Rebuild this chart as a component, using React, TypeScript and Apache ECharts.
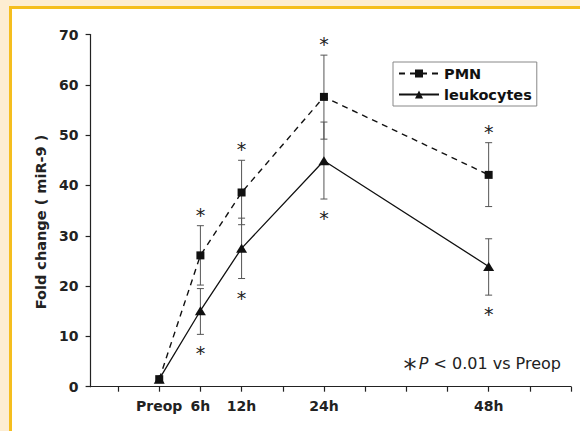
import React, { useEffect, useRef } from 'react';
import * as echarts from 'echarts';

const categories = ['Preop', '6h', '12h', '24h', '48h'];
const hours = [0, 6, 12, 24, 48];
const xTickValues = [-6, 0, 6, 12, 18, 24, 30, 36, 42, 48, 54, 60];

const pmnMean = [1.5, 26.1, 38.6, 57.6, 42.1];
const pmnLow = [1.5, 20.2, 32.2, 49.2, 35.8];
const pmnHigh = [1.5, 32.0, 45.0, 65.9, 48.5];
const pmnSig = [false, true, true, true, true];

const leukMean = [1.5, 15.1, 27.5, 44.9, 23.9];
const leukLow = [1.5, 10.4, 21.5, 37.3, 18.2];
const leukHigh = [1.5, 19.5, 33.5, 52.6, 29.4];
const leukSig = [false, true, true, true, true];

const FONT = 'DejaVu Sans';

export default function App() {
  const ref = useRef<HTMLDivElement>(null);
  useEffect(() => {
    const chart = echarts.init(ref.current!, null, { renderer: 'svg' });

    const errData = (low: number[], high: number[], sigTop: boolean[], sigBottom: boolean[]) =>
      hours.map((h, i) => [h, low[i], high[i], sigTop[i] ? 1 : 0, sigBottom[i] ? 1 : 0]);

    const renderErr = (_params: any, api: any) => {
      const x = api.value(0);
      const lo = api.value(1);
      const hi = api.value(2);
      const top = api.coord([x, hi]);
      const bot = api.coord([x, lo]);
      const children: any[] = [];
      const stroke = { stroke: '#555', lineWidth: 1 };
      if (hi - lo > 0.01) {
        children.push({ type: 'line', shape: { x1: top[0], y1: top[1], x2: bot[0], y2: bot[1] }, style: stroke });
        children.push({ type: 'line', shape: { x1: top[0] - 3.5, y1: top[1], x2: top[0] + 3.5, y2: top[1] }, style: stroke });
        children.push({ type: 'line', shape: { x1: bot[0] - 3.5, y1: bot[1], x2: bot[0] + 3.5, y2: bot[1] }, style: stroke });
      }
      const starStyle = { text: '*', align: 'center', verticalAlign: 'middle', fontFamily: FONT, fontSize: 19, fill: '#222' };
      if (api.value(3)) {
        children.push({ type: 'text', style: { ...starStyle, x: top[0], y: top[1] - 11 } });
      }
      if (api.value(4)) {
        children.push({ type: 'text', style: { ...starStyle, x: bot[0], y: bot[1] + 19 } });
      }
      return { type: 'group', children };
    };

    chart.setOption({
      animation: false,
      grid: { left: 90.6, right: 9, top: 34.5, bottom: 44.3, containLabel: false },
      legend: {
        orient: 'vertical',
        left: 393,
        top: 62,
        data: ['PMN', 'leukocytes'],
        itemWidth: 40,
        itemHeight: 10,
        itemGap: 6,
        padding: [4, 5, 4, 5],
        borderColor: '#888',
        borderWidth: 1,
        textStyle: { fontFamily: FONT, fontWeight: 'bold', fontSize: 14.5, color: '#111' },
      },
      xAxis: {
        type: 'value',
        min: -10,
        max: 60,
        splitLine: { show: false },
        axisLine: { onZero: false, lineStyle: { color: '#222', width: 1.2 } },
        axisTick: { show: true, inside: false, length: 5, customValues: xTickValues, lineStyle: { color: '#222', width: 1.2 } },
        axisLabel: {
          customValues: hours,
          margin: 12,
          fontFamily: FONT,
          fontWeight: 'bold',
          fontSize: 14,
          color: '#222',
          formatter: (v: number) => {
            const i = hours.indexOf(v);
            return i >= 0 ? categories[i] : '';
          },
        },
      },
      yAxis: {
        type: 'value',
        min: 0,
        max: 70,
        interval: 10,
        splitLine: { show: false },
        axisLine: { show: true, onZero: false, lineStyle: { color: '#222', width: 1.2 } },
        axisTick: { show: true, inside: false, length: 5, lineStyle: { color: '#222', width: 1.2 } },
        axisLabel: { margin: 12, fontFamily: FONT, fontWeight: 'bold', fontSize: 14, color: '#222' },
      },
      graphic: [
        {
          type: 'text',
          x: 41,
          y: 222,
          rotation: Math.PI / 2,
          style: {
            text: 'Fold change ( miR-9 )',
            align: 'center',
            verticalAlign: 'middle',
            fontFamily: FONT,
            fontWeight: 'bold',
            fontSize: 14.5,
            fill: '#222',
          },
        },
        {
          type: 'text',
          x: 410,
          y: 369,
          style: { text: '*', align: 'center', verticalAlign: 'middle', fontFamily: FONT, fontSize: 26, fill: '#222' },
        },
        {
          type: 'text',
          x: 561,
          y: 363,
          style: {
            text: '{a|P}{b| < 0.01 vs Preop}',
            align: 'right',
            verticalAlign: 'middle',
            fill: '#222',
            rich: {
              a: { fontFamily: FONT, fontSize: 16, fontStyle: 'italic', fill: '#222' },
              b: { fontFamily: FONT, fontSize: 16, fill: '#222' },
            },
          },
        },
      ],
      series: [
        {
          name: 'PMN err',
          type: 'custom',
          renderItem: renderErr,
          data: errData(pmnLow, pmnHigh, pmnSig, hours.map(() => false)),
          z: 1,
          silent: true,
        },
        {
          name: 'leuk err',
          type: 'custom',
          renderItem: renderErr,
          data: errData(leukLow, leukHigh, hours.map(() => false), leukSig),
          z: 1,
          silent: true,
        },
        {
          name: 'PMN',
          type: 'line',
          data: hours.map((h, i) => [h, pmnMean[i]]),
          symbol: 'rect',
          symbolSize: 8,
          showAllSymbol: true,
          lineStyle: { type: [6, 5], width: 1.4, color: '#111' },
          itemStyle: { color: '#111' },
          z: 3,
        },
        {
          name: 'leukocytes',
          type: 'line',
          data: hours.map((h, i) => [h, leukMean[i]]),
          symbol: 'triangle',
          symbolSize: [11, 9],
          showAllSymbol: true,
          lineStyle: { type: 'solid', width: 1.3, color: '#111' },
          itemStyle: { color: '#111' },
          z: 3,
        },
      ],
    });
    return () => chart.dispose();
  }, []);

  return (
    <div style={{ position: 'fixed', left: 0, top: 0, width: 580, height: 431, background: '#FDEDD2', overflow: 'hidden' }}>
      <div
        style={{
          position: 'absolute',
          left: 9,
          top: 6,
          width: 571,
          height: 425,
          boxSizing: 'border-box',
          background: '#ffffff',
          borderTop: '3px solid #F5BE1E',
          borderLeft: '3px solid #F5BE1E',
        }}
      />
      <div ref={ref} style={{ position: 'absolute', left: 0, top: 0, width: 580, height: 431 }} />
    </div>
  );
}
